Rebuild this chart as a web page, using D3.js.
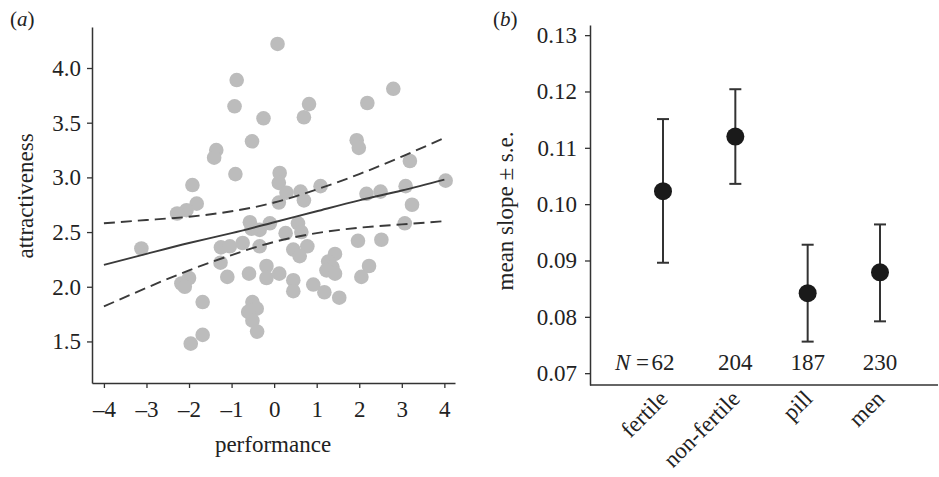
<!DOCTYPE html>
<html>
<head>
<meta charset="utf-8">
<script src="https://cdn.jsdelivr.net/npm/d3@7"></script>
<style>
  html, body { margin: 0; padding: 0; background: #fff; }
  svg { display: block; }
  text { font-family: "Liberation Serif", "Times New Roman", Times, serif; fill: #222; }
</style>
</head>
<body>
<svg id="chart" width="939" height="477"></svg>
<script>
// ---------- Panel (a) data ----------
const perfX = [-0.88,-0.93,-0.25,-0.52,-1.36,-1.41,-0.91,-1.92,-1.82,-2.06,-2.28,-0.57,-0.34,-3.12,-1.25,-1.04,-0.74,-0.34,-1.26,-1.10,-0.59,-0.18,-0.18,-2.00,-2.18,-2.10,-1.68,-0.51,-0.41,-0.61,-0.51,-0.40,-1.68,-1.96,0.08,2.80,0.82,2.19,0.70,1.94,1.99,3.19,0.13,0.11,0.29,0.62,1.09,0.70,0.11,2.17,2.50,3.09,4.03,3.24,-0.10,0.56,0.64,0.27,3.07,1.97,2.52,0.45,0.78,0.60,1.43,1.27,1.37,1.23,1.43,2.23,2.05,0.12,0.45,0.45,0.92,1.18,1.53,-0.53];
const attrY = [3.89,3.65,3.54,3.33,3.25,3.18,3.03,2.93,2.76,2.70,2.67,2.59,2.52,2.35,2.36,2.37,2.40,2.37,2.22,2.09,2.12,2.19,2.08,2.08,2.03,2.00,1.86,1.86,1.80,1.77,1.69,1.59,1.56,1.48,4.22,3.81,3.67,3.68,3.55,3.34,3.27,3.15,3.04,2.95,2.86,2.87,2.92,2.79,2.77,2.85,2.87,2.92,2.97,2.75,2.58,2.58,2.50,2.49,2.58,2.42,2.43,2.34,2.37,2.28,2.30,2.23,2.18,2.15,2.12,2.19,2.09,2.12,2.06,1.96,2.02,1.95,1.90,2.53];
const fitX     = [-4, -3, -2, -1, 0, 1, 2, 3, 4];
const fitY     = [2.20, 2.30, 2.40, 2.49, 2.59, 2.69, 2.79, 2.88, 2.98];
const fitUpper = [2.58, 2.61, 2.64, 2.69, 2.77, 2.89, 3.03, 3.19, 3.36];
const fitLower = [1.82, 1.99, 2.15, 2.29, 2.41, 2.49, 2.54, 2.57, 2.60];
const xTicksA = [-4, -3, -2, -1, 0, 1, 2, 3, 4];
const yTicksA = [1.5, 2.0, 2.5, 3.0, 3.5, 4.0];

// ---------- Panel (b) data ----------
const groups   = ["fertile", "non-fertile", "pill", "men"];
const meanSlope = [0.1023, 0.1120, 0.0842, 0.0879];
const seUpper   = [0.1151, 0.1204, 0.0928, 0.0964];
const seLower   = [0.0896, 0.1036, 0.0756, 0.0792];
const groupN    = [62, 204, 187, 230];
const yTicksB   = [0.07, 0.08, 0.09, 0.10, 0.11, 0.12, 0.13];

const svg = d3.select("#chart");
const FONT = 23;
const axisColor = "#333";
const SERIF = "Liberation Serif, Times New Roman, Times, serif";

// ===== Panel (a) =====
const xA = d3.scaleLinear().domain([-4.28, 4.25]).range([92, 455]);
const yA = d3.scaleLinear().domain([1.12, 4.375]).range([383, 27]);

const gA = svg.append("g");

gA.append("g").selectAll("circle")
  .data(perfX.map((x, i) => ({x, y: attrY[i]})))
  .join("circle")
  .attr("cx", d => xA(d.x))
  .attr("cy", d => yA(d.y))
  .attr("r", 7.3)
  .attr("fill", "#bcbcbc");

const fitData = fitX.map((x, i) => ({x, y: fitY[i], u: fitUpper[i], l: fitLower[i]}));
const lineGen = acc => d3.line().x(d => xA(d.x)).y(d => yA(acc(d))).curve(d3.curveNatural);

gA.append("path").datum(fitData).attr("d", lineGen(d => d.y))
  .attr("fill", "none").attr("stroke", "#3a3a3a").attr("stroke-width", 1.9);
gA.append("path").datum(fitData).attr("d", lineGen(d => d.u))
  .attr("fill", "none").attr("stroke", "#3a3a3a").attr("stroke-width", 1.9)
  .attr("stroke-dasharray", "11,6");
gA.append("path").datum(fitData).attr("d", lineGen(d => d.l))
  .attr("fill", "none").attr("stroke", "#3a3a3a").attr("stroke-width", 1.9)
  .attr("stroke-dasharray", "11,6");

const axA_y = gA.append("g").attr("transform", `translate(${xA.range()[0]},0)`)
  .call(d3.axisLeft(yA).tickValues(yTicksA).tickFormat(d3.format(".1f"))
        .tickSize(5).tickSizeOuter(0).tickPadding(6));
const axA_x = gA.append("g").attr("transform", `translate(0,${yA.range()[0]})`)
  .call(d3.axisBottom(xA).tickValues(xTicksA)
        .tickFormat(d => d < 0 ? "\u2013" + Math.abs(d) : String(d))
        .tickSize(5).tickSizeOuter(0).tickPadding(13));

[axA_y, axA_x].forEach(ax => {
  ax.selectAll("path.domain").attr("stroke", axisColor).attr("stroke-width", 1.5);
  ax.selectAll(".tick line").attr("stroke", axisColor).attr("stroke-width", 1.3);
  ax.selectAll(".tick text").attr("font-size", FONT)
    .attr("font-family", SERIF).attr("fill", "#222");
});

gA.append("text").attr("x", 273).attr("y", 452).attr("text-anchor", "middle")
  .attr("font-size", FONT).text("performance");
gA.append("text").attr("transform", "translate(33,196) rotate(-90)")
  .attr("text-anchor", "middle").attr("font-size", FONT).text("attractiveness");

const la = gA.append("text").attr("x", 10).attr("y", 26).attr("font-size", 21);
la.append("tspan").text("(");
la.append("tspan").attr("font-style", "italic").text("a");
la.append("tspan").text(")");

// ===== Panel (b) =====
const xB = d3.scalePoint().domain(groups).range([663, 880]);
const yB = d3.scaleLinear().domain([0.0679, 0.1318]).range([385, 25]);
const gB = svg.append("g");

const axB_y = gB.append("g").attr("transform", "translate(590,0)")
  .call(d3.axisLeft(yB).tickValues(yTicksB).tickFormat(d3.format(".2f"))
        .tickSize(5).tickSizeOuter(0).tickPadding(8));
axB_y.selectAll("path.domain").attr("stroke", axisColor).attr("stroke-width", 1.5);
axB_y.selectAll(".tick line").attr("stroke", axisColor).attr("stroke-width", 1.3);
axB_y.selectAll(".tick text").attr("font-size", FONT)
  .attr("font-family", SERIF).attr("fill", "#222");

gB.append("line").attr("x1", 590).attr("x2", 938)
  .attr("y1", yB.range()[0]).attr("y2", yB.range()[0])
  .attr("stroke", axisColor).attr("stroke-width", 1.5);

const bData = groups.map((g, i) => ({g, m: meanSlope[i], hi: seUpper[i], lo: seLower[i], n: groupN[i]}));

const eb = gB.append("g").selectAll("g").data(bData).join("g");
eb.append("line").attr("x1", d => xB(d.g)).attr("x2", d => xB(d.g))
  .attr("y1", d => yB(d.hi)).attr("y2", d => yB(d.lo))
  .attr("stroke", "#333").attr("stroke-width", 2);
eb.append("line").attr("x1", d => xB(d.g) - 6).attr("x2", d => xB(d.g) + 6)
  .attr("y1", d => yB(d.hi)).attr("y2", d => yB(d.hi))
  .attr("stroke", "#333").attr("stroke-width", 2);
eb.append("line").attr("x1", d => xB(d.g) - 6).attr("x2", d => xB(d.g) + 6)
  .attr("y1", d => yB(d.lo)).attr("y2", d => yB(d.lo))
  .attr("stroke", "#333").attr("stroke-width", 2);
eb.append("circle").attr("cx", d => xB(d.g)).attr("cy", d => yB(d.m))
  .attr("r", 9).attr("fill", "#1a1a1a");

eb.append("text").attr("x", d => xB(d.g)).attr("y", 370)
  .attr("text-anchor", "middle").attr("font-size", FONT).text(d => d.n);
const nl = gB.append("text").attr("x", xB(groups[0]) - 14).attr("y", 370)
  .attr("text-anchor", "end").attr("font-size", FONT);
nl.append("tspan").attr("font-style", "italic").text("N");
nl.append("tspan").text(" =");

gB.append("g").selectAll("text").data(groups).join("text")
  .attr("transform", d => `translate(${xB(d) + 6},400) rotate(-45)`)
  .attr("text-anchor", "end").attr("font-size", FONT).text(d => d);

gB.append("text").attr("transform", "translate(513,211) rotate(-90)")
  .attr("text-anchor", "middle").attr("font-size", FONT).text("mean slope \u00b1 s.e.");

const lb = gB.append("text").attr("x", 493).attr("y", 26).attr("font-size", 21);
lb.append("tspan").text("(");
lb.append("tspan").attr("font-style", "italic").text("b");
lb.append("tspan").text(")");
</script>
</body>
</html>
